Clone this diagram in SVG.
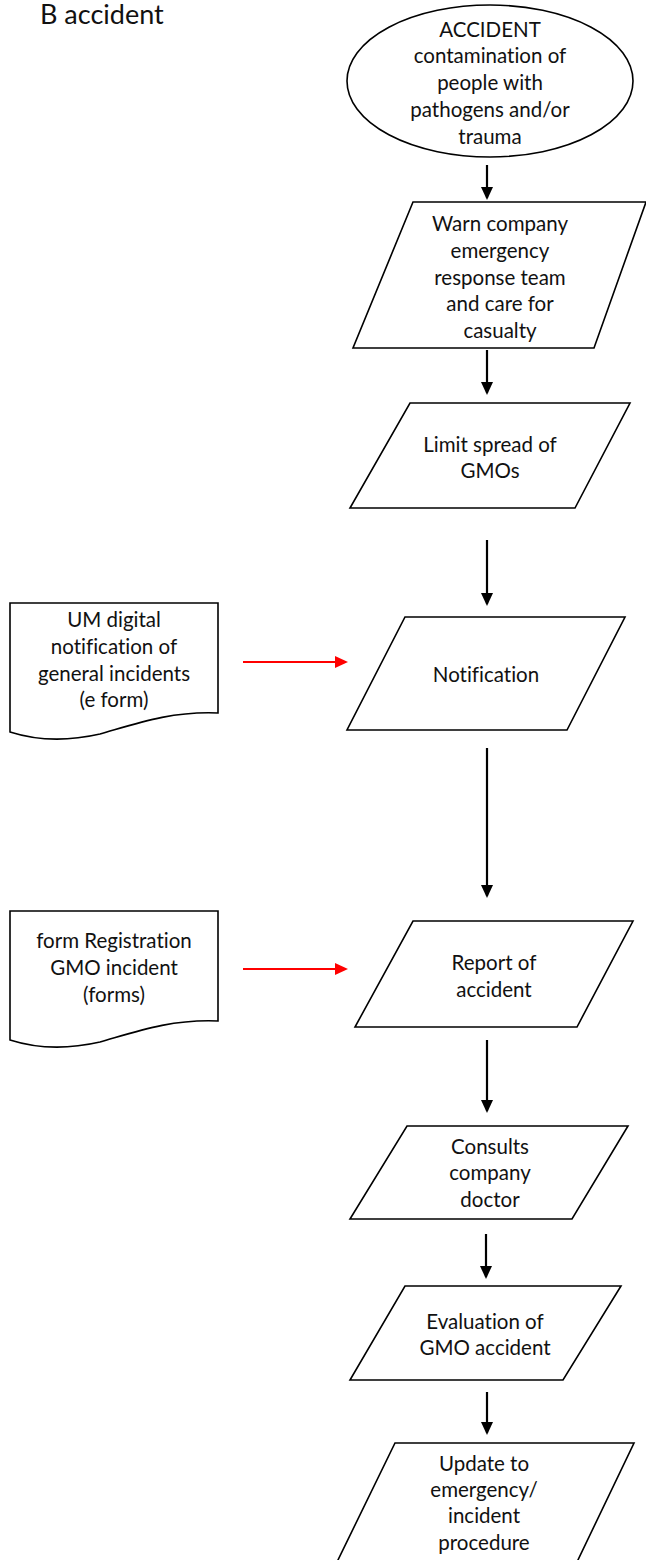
<svg xmlns="http://www.w3.org/2000/svg" width="646" height="1560" viewBox="0 0 646 1560">
<style>
.s{fill:#fff;stroke:#000;stroke-width:1.6}
text{font-variant-ligatures:none;font-feature-settings:"liga" 0}
.t{font-family:Lato,"Open Sans","Liberation Sans",sans-serif;font-size:20.5px;fill:#111;text-anchor:middle}
.k{stroke:#000;stroke-width:2.2;fill:none}
.r{stroke:#f00;stroke-width:2.2;fill:none}
</style>
<defs>
<marker id="ar" markerWidth="13" markerHeight="12" refX="11" refY="6" orient="auto" markerUnits="userSpaceOnUse" viewBox="0 0 13 12"><path d="M0,0 L13,6 L0,12 Z" fill="#f00"/></marker>
<marker id="ak" markerWidth="13" markerHeight="12" refX="11" refY="6" orient="auto" markerUnits="userSpaceOnUse" viewBox="0 0 13 12"><path d="M0,0 L13,6 L0,12 Z" fill="#000"/></marker>
</defs>
<text x="40" y="24" font-family="Lato,'Open Sans','Liberation Sans',sans-serif" font-size="27" fill="#111">B accident</text>

<g id="n-accident">
<ellipse class="s" cx="490" cy="81" rx="143" ry="76"/>
<text class="t" x="490" y="37">ACCIDENT</text>
<text class="t" x="490" y="63">contamination of</text>
<text class="t" x="490" y="90">people with</text>
<text class="t" x="490" y="117">pathogens and/or</text>
<text class="t" x="490" y="144">trauma</text>
</g>

<g id="n-warn">
<polygon class="s" points="413,202 646,202 594,348 353,348"/>
<text class="t" x="500" y="231">Warn company</text>
<text class="t" x="500" y="258">emergency</text>
<text class="t" x="500" y="285">response team</text>
<text class="t" x="500" y="311">and care for</text>
<text class="t" x="500" y="338">casualty</text>
</g>

<g id="n-limit">
<polygon class="s" points="410,403 630,403 575,508 350,508"/>
<text class="t" x="490" y="452">Limit spread of</text>
<text class="t" x="490" y="478">GMOs</text>
</g>

<g id="n-notification">
<polygon class="s" points="405,617 625,617 567,730 347,730"/>
<text class="t" x="486" y="682">Notification</text>
</g>

<g id="n-umform">
<path class="s" d="M10,603 H218 V713 C170,711 135,724 100,734 C65,742 35,740 10,732 Z"/>
<text class="t" x="114" y="627">UM digital</text>
<text class="t" x="114" y="654">notification of</text>
<text class="t" x="114" y="681">general incidents</text>
<text class="t" x="114" y="707">(e form)</text>
</g>

<g id="n-report">
<polygon class="s" points="413,921 633,921 577,1027 355,1027"/>
<text class="t" x="494" y="970">Report of</text>
<text class="t" x="494" y="997">accident</text>
</g>

<g id="n-regform">
<path class="s" d="M10,911 H218 V1021 C170,1019 135,1032 100,1042 C65,1050 35,1048 10,1040 Z"/>
<text class="t" x="114" y="948">form Registration</text>
<text class="t" x="114" y="975">GMO incident</text>
<text class="t" x="114" y="1002">(forms)</text>
</g>

<g id="n-consults">
<polygon class="s" points="407,1126 628,1126 572,1219 350,1219"/>
<text class="t" x="490" y="1154">Consults</text>
<text class="t" x="490" y="1180">company</text>
<text class="t" x="490" y="1207">doctor</text>
</g>

<g id="n-evaluation">
<polygon class="s" points="405,1286 621,1286 563,1380 350,1380"/>
<text class="t" x="485" y="1329">Evaluation of</text>
<text class="t" x="485" y="1355">GMO accident</text>
</g>

<g id="n-update">
<polygon class="s" points="395,1443 634,1443 577,1562 337,1562"/>
<text class="t" x="484" y="1471">Update to</text>
<text class="t" x="484" y="1497">emergency/</text>
<text class="t" x="484" y="1523">incident</text>
<text class="t" x="484" y="1550">procedure</text>
</g>

<g id="connectors">
<line class="k" x1="487" y1="165" x2="487" y2="198" marker-end="url(#ak)"/>
<line class="k" x1="487" y1="350" x2="487" y2="393" marker-end="url(#ak)"/>
<line class="k" x1="487" y1="540" x2="487" y2="604" marker-end="url(#ak)"/>
<line class="k" x1="487" y1="748" x2="487" y2="896" marker-end="url(#ak)"/>
<line class="k" x1="487" y1="1040" x2="487" y2="1111" marker-end="url(#ak)"/>
<line class="k" x1="486" y1="1234" x2="486" y2="1277" marker-end="url(#ak)"/>
<line class="k" x1="487" y1="1392" x2="487" y2="1433" marker-end="url(#ak)"/>
<line class="r" x1="243" y1="662" x2="346" y2="662" marker-end="url(#ar)"/>
<line class="r" x1="243" y1="969" x2="346" y2="969" marker-end="url(#ar)"/>
</g>
</svg>
